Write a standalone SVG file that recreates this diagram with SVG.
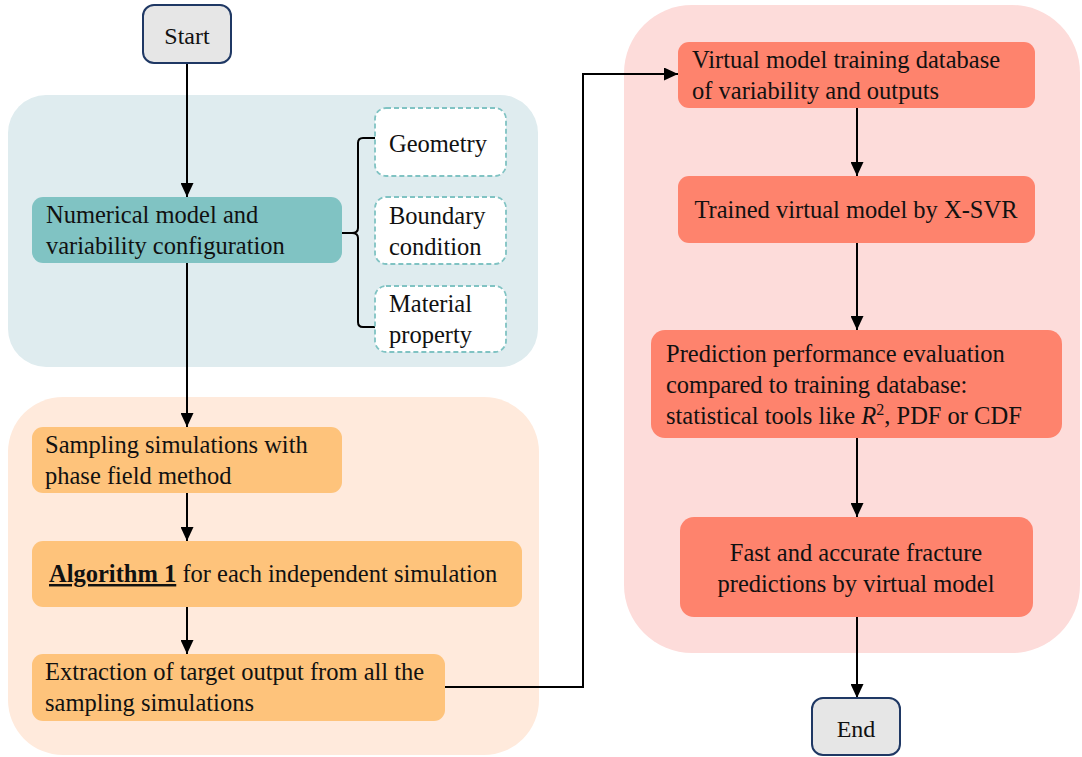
<svg xmlns="http://www.w3.org/2000/svg" width="1082" height="757" viewBox="0 0 1082 757" font-family="Liberation Serif, serif">
<style>
text{font-family:'Liberation Serif',serif;font-size:24.5px;fill:#111}
.term{fill:#e6e6e6;stroke:#1f3864;stroke-width:2}
.teal{fill:#80c3c3}
.dash{fill:#ffffff;stroke:#80c3c3;stroke-width:1.8;stroke-dasharray:5 3}
.org{fill:#fec37b}
.red{fill:#fe836d}
.ln{fill:none;stroke:#000;stroke-width:2}
.mid{text-anchor:middle}
</style>
<defs>
<marker id="ah" markerUnits="userSpaceOnUse" markerWidth="14" markerHeight="13" refX="14" refY="6.5" orient="auto">
<path d="M0,0 L14,6.5 L0,13 z" fill="#000"/>
</marker>
</defs>
<g id="panels">
<rect x="8" y="95" width="530" height="272" rx="38" fill="#dfecef"/>
<rect x="8" y="397" width="531" height="358" rx="55" fill="#ffeadc"/>
<rect x="624" y="5" width="456" height="648" rx="68" fill="#fddcda"/>
</g>
<g id="connectors">
<path class="ln" d="M187 63 V197" marker-end="url(#ah)"/>
<path class="ln" d="M187 263 V427" marker-end="url(#ah)"/>
<path class="ln" d="M187 493 V541" marker-end="url(#ah)"/>
<path class="ln" d="M187 607 V654" marker-end="url(#ah)"/>
<path class="ln" d="M445 687 H583 V74 H678" marker-end="url(#ah)"/>
<path class="ln" d="M857 108 V176" marker-end="url(#ah)"/>
<path class="ln" d="M857 243 V330" marker-end="url(#ah)"/>
<path class="ln" d="M857 438 V517" marker-end="url(#ah)"/>
<path class="ln" d="M857 617 V698" marker-end="url(#ah)"/>
<path class="ln" d="M375 138 H363 Q358 138 358 143 V228 Q358 233 352 233 H342 M352 233 Q358 233 358 238 V322 Q358 327 363 327 H375"/>
</g>
<g id="start">
<rect class="term" x="143" y="5" width="88" height="58" rx="11"/>
<text class="mid" x="187" y="44" style="font-size:24px">Start</text>
</g>
<g id="numerical">
<rect class="teal" x="32" y="197" width="310" height="66" rx="11"/>
<text x="46" y="223">Numerical model and</text>
<text x="46" y="254">variability configuration</text>
</g>
<g id="geometry">
<rect class="dash" x="375" y="108" width="131" height="68" rx="11"/>
<text x="389" y="152">Geometry</text>
</g>
<g id="boundary">
<rect class="dash" x="375" y="197" width="131" height="67" rx="11"/>
<text x="389" y="224">Boundary</text>
<text x="389" y="255">condition</text>
</g>
<g id="material">
<rect class="dash" x="375" y="286" width="131" height="66" rx="11"/>
<text x="389" y="312">Material</text>
<text x="389" y="343">property</text>
</g>
<g id="sampling">
<rect class="org" x="32" y="427" width="310" height="66" rx="11"/>
<text x="45" y="453">Sampling simulations with</text>
<text x="45" y="484">phase field method</text>
</g>
<g id="algorithm">
<rect class="org" x="32" y="541" width="490" height="66" rx="11"/>
<text x="49" y="582"><tspan font-weight="bold" text-decoration="underline">Algorithm 1</tspan> for each independent simulation</text>
</g>
<g id="extraction">
<rect class="org" x="32" y="654" width="413" height="67" rx="11"/>
<text x="45" y="680">Extraction of target output from all the</text>
<text x="45" y="711">sampling simulations</text>
</g>
<g id="virtual">
<rect class="red" x="678" y="42" width="357" height="66" rx="11"/>
<text x="692" y="68">Virtual model training database</text>
<text x="692" y="99">of variability and outputs</text>
</g>
<g id="trained">
<rect class="red" x="678" y="176" width="357" height="67" rx="11"/>
<text class="mid" x="856" y="218">Trained virtual model by X-SVR</text>
</g>
<g id="prediction">
<rect class="red" x="651" y="330" width="411" height="108" rx="14"/>
<text x="666" y="362">Prediction performance evaluation</text>
<text x="666" y="393">compared to training database:</text>
<text x="666" y="424">statistical tools like <tspan font-style="italic">R</tspan><tspan dy="-9" style="font-size:16px">2</tspan><tspan dy="9">, PDF or CDF</tspan></text>
</g>
<g id="fast">
<rect class="red" x="680" y="517" width="353" height="100" rx="14"/>
<text class="mid" x="856" y="561">Fast and accurate fracture</text>
<text class="mid" x="856" y="592">predictions by virtual model</text>
</g>
<g id="end">
<rect class="term" x="812" y="698" width="88" height="57" rx="11"/>
<text class="mid" x="856" y="737" style="font-size:24px">End</text>
</g>
</svg>
